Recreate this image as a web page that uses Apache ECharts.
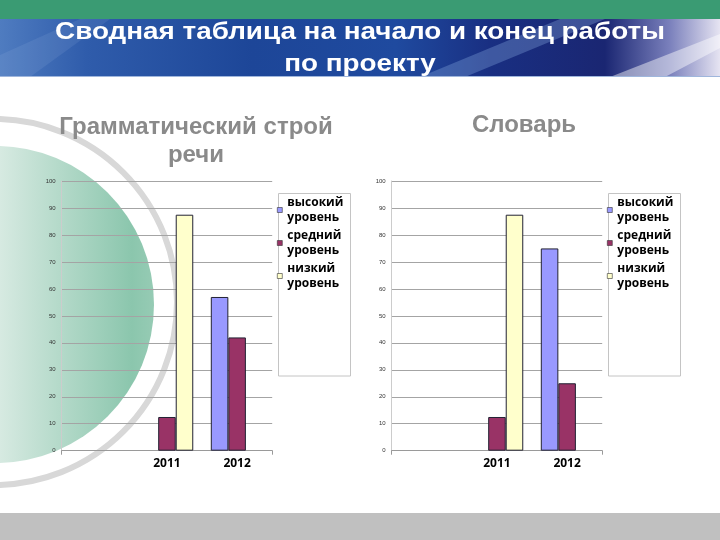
<!DOCTYPE html>
<html><head><meta charset="utf-8">
<script src="https://cdn.jsdelivr.net/npm/echarts@6/dist/echarts.min.js"></script>
<style>html,body{margin:0;padding:0;background:#fff}#c{width:720px;height:540px}</style>
</head><body><div id="c"></div>
<script>
// ---- data ----
const categories = ['', '2011', '2012'];
const seriesNames = ['высокий уровень', 'средний уровень', 'низкий уровень'];
const grammarHigh = [null, 0, 57];
const grammarMid  = [null, 12.5, 42];
const grammarLow  = [null, 87.5, 0];
const vocabHigh   = [null, 0, 75];
const vocabMid    = [null, 12.5, 25];
const vocabLow    = [null, 87.5, 0];
const yMin = 0, yMax = 100, yStep = 10;
const titleLines = ['Сводная таблица на начало и конец работы', 'по проекту'];
const chartTitles = ['Грамматический строй\nречи', 'Словарь'];

// ---- styles ----
const colors = ['#9999ff', '#993366', '#ffffcc'];
const chart = echarts.init(document.getElementById('c'));

function xAxisCfg(gi) {
  return {
    type: 'category', gridIndex: gi, data: categories,
    axisLine: { lineStyle: { color: '#9a9a9a' } },
    axisTick: { show: true, interval: (i) => i === 1, length: 4, lineStyle: { color: '#9a9a9a' } },
    axisLabel: { fontSize: 12, fontWeight: 'bold', color: '#000', margin: 7, fontFamily: 'Open Sans' }
  };
}
function yAxisCfg(gi) {
  return {
    type: 'value', gridIndex: gi, min: yMin, max: yMax, interval: yStep,
    axisLine: { show: true, lineStyle: { color: '#cccccc' } },
    axisTick: { show: false },
    splitLine: { lineStyle: { color: '#a4a4a4' } },
    axisLabel: { fontSize: 6, color: '#333', margin: 6, fontFamily: 'Liberation Sans' }
  };
}
function bar(name, data, ci, gi) {
  return {
    type: 'bar', name: name, xAxisIndex: gi, yAxisIndex: gi,
    data: data.map(v => v === 0 ? { value: v, itemStyle: { borderWidth: 0 } } : v),
    barGap: '0%', barCategoryGap: '25%',
    itemStyle: { color: colors[ci], borderColor: '#222233', borderWidth: 1 }
  };
}
function legendCfg(left) {
  return {
    orient: 'vertical', left: left, top: 195, padding: 0, itemGap: 3,
    itemWidth: 5, itemHeight: 5, icon: 'rect',
    data: seriesNames.map((n, i) => ({ name: n, itemStyle: { color: colors[i], borderColor: '#333', borderWidth: 0.6 } })),
    formatter: (n) => n.replace(' ', '\n'),
    textStyle: { fontSize: 12, fontWeight: 'bold', color: '#000', lineHeight: 15, fontFamily: 'Open Sans' },
    selectedMode: false
  };
}

const graphics = [
  // header green band
  { type: 'rect', z: -10, shape: { x: 0, y: 0, width: 720, height: 19 }, style: { fill: '#3a9b73' } },
  // blue banner
  { type: 'rect', z: -10, shape: { x: 0, y: 19, width: 720, height: 58 },
    style: { fill: new echarts.graphic.LinearGradient(0, 0, 1, 0, [
      { offset: 0, color: '#4f7cc0' }, { offset: 0.12, color: '#2f5cab' },
      { offset: 0.35, color: '#1d4698' }, { offset: 0.55, color: '#1f4a9f' },
      { offset: 0.68, color: '#192f82' }, { offset: 0.84, color: '#1a2672' },
      { offset: 0.93, color: '#7a80bc' }, { offset: 1, color: '#e6e4f2' }]) } },
  { type: 'polygon', z: -9, shape: { points: [[420, 77], [465, 77], [605, 19], [560, 19]] },
    style: { fill: 'rgba(150,185,235,0.3)' } },
  { type: 'polygon', z: -9, shape: { points: [[610, 77], [665, 77], [720, 48], [720, 34]] },
    style: { fill: 'rgba(255,255,255,0.45)' } },
  { type: 'polygon', z: -9, shape: { points: [[0, 55], [0, 77], [30, 77], [110, 19], [80, 19]] },
    style: { fill: 'rgba(200,220,250,0.1)' } },
  { type: 'rect', z: -9, shape: { x: 0, y: 76, width: 720, height: 1 }, style: { fill: '#9fb6dc' } },
  // title
  { type: 'text', z: 10, x: 360, y: 32, scaleX: 1.16, style: { text: titleLines[0], fill: '#fff', font: 'bold 24px "Liberation Sans"', align: 'center', verticalAlign: 'middle' } },
  { type: 'text', z: 10, x: 360, y: 64, scaleX: 1.16, style: { text: titleLines[1], fill: '#fff', font: 'bold 24px "Liberation Sans"', align: 'center', verticalAlign: 'middle' } },
  // decorative ring and green circle
  { type: 'circle', z: -8, shape: { cx: -6, cy: 302, r: 183 }, style: { fill: 'none', stroke: '#d8d8d8', lineWidth: 6 } },
  { type: 'circle', z: -7, shape: { cx: -4.5, cy: 304.5, r: 158.5 },
    style: { fill: new echarts.graphic.LinearGradient(0, 0, 1, 0, [
      { offset: 0, color: '#ffffff' }, { offset: 0.5, color: '#d9ebe3' },
      { offset: 0.93, color: '#8bc6ad' }, { offset: 1, color: '#96cbb4' }]) } },
  // chart subtitles
  { type: 'text', z: 10, x: 196, y: 141, style: { text: chartTitles[0], fill: '#8a8a8a', font: 'bold 24px "Liberation Sans"', align: 'center', verticalAlign: 'middle', lineHeight: 28 } },
  { type: 'text', z: 10, x: 524, y: 125, style: { text: chartTitles[1], fill: '#8a8a8a', font: 'bold 24px "Liberation Sans"', align: 'center', verticalAlign: 'middle' } },
  // legend boxes
  { type: 'rect', z: 1, shape: { x: 278.5, y: 193.5, width: 72, height: 182.5 }, style: { fill: '#fff', stroke: '#c4c4c4', lineWidth: 1 } },
  { type: 'rect', z: 1, shape: { x: 608.5, y: 193.5, width: 72, height: 182.5 }, style: { fill: '#fff', stroke: '#c4c4c4', lineWidth: 1 } },
  // bottom bar
  { type: 'rect', z: -10, shape: { x: 0, y: 513, width: 720, height: 27 }, style: { fill: '#c0c0c0' } }
];

chart.setOption({
  animation: false,
  backgroundColor: '#ffffff',
  grid: [
    { left: 61.7, top: 181, width: 210.5, height: 269.7 },
    { left: 391.7, top: 181, width: 210.5, height: 269.7 }
  ],
  xAxis: [xAxisCfg(0), xAxisCfg(1)],
  yAxis: [yAxisCfg(0), yAxisCfg(1)],
  legend: [legendCfg(277), legendCfg(607)],
  graphic: graphics,
  series: [
    bar(seriesNames[0], grammarHigh, 0, 0),
    bar(seriesNames[1], grammarMid, 1, 0),
    bar(seriesNames[2], grammarLow, 2, 0),
    bar(seriesNames[0], vocabHigh, 0, 1),
    bar(seriesNames[1], vocabMid, 1, 1),
    bar(seriesNames[2], vocabLow, 2, 1)
  ]
});
</script></body></html>
